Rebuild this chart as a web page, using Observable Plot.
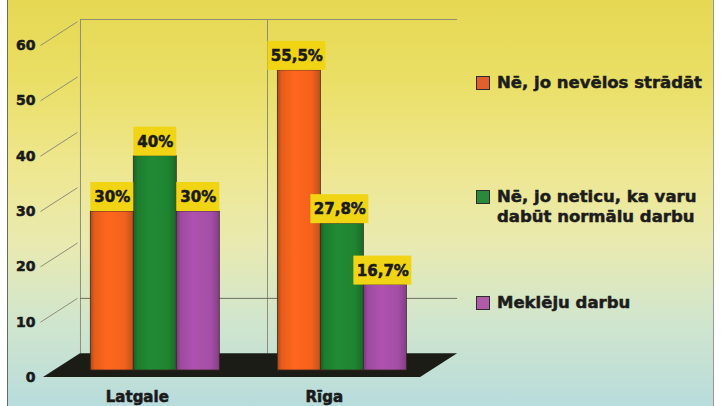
<!DOCTYPE html>
<html>
<head>
<meta charset="utf-8">
<script src="https://cdn.jsdelivr.net/npm/d3@7"></script>
<script src="https://cdn.jsdelivr.net/npm/@observablehq/plot@0.6"></script>
<style>
html, body { margin: 0; padding: 0; background: #ffffff; }
#wrap { position: relative; width: 722px; height: 406px; overflow: hidden; }
#bg { position: absolute; left: 7px; top: 0; width: 705px; height: 406px;
  border-left: 1px solid #6a6a60; border-right: 1px solid #9a9a94;
  background: linear-gradient(to bottom, #e6d852 0%, #eadf66 20%, #eee791 42%, #e9eab0 60%, #d2e6cc 78%, #b8dcdc 100%); }
#chart { position: absolute; left: 0; top: 0; }
#chart svg text { stroke: #1a1a1a; stroke-width: 0.55px; paint-order: stroke; }
#legend { position: absolute; left: 0; top: 0; font-family: "DejaVu Sans", sans-serif; font-weight: bold; font-size: 16.5px; color: #1c1c1c; -webkit-text-stroke: 0.5px #1c1c1c; }
.item { position: absolute; left: 476px; }
.sw { position: absolute; left: 0; width: 12px; height: 12px; border: 1.5px solid #2d2d2d; }
.txt { position: absolute; left: 21px; white-space: nowrap; line-height: 20px; }
</style>
</head>
<body>
<div id="wrap"><div id="bg"></div><div id="chart"></div><div id="legend"></div></div>
<script>
// ---- data ----
const regions = ["Latgale", "Rīga"];
const seriesNames = ["Nē, jo nevēlos strādāt", "Nē, jo neticu, ka varu dabūt normālu darbu", "Meklēju darbu"];
const legendLines = [["Nē, jo nevēlos strādāt"], ["Nē, jo neticu, ka varu", "dabūt normālu darbu"], ["Meklēju darbu"]];
const latgaleValues = [30, 40, 30];
const rigaValues = [55.5, 27.8, 16.7];
const latgaleLabels = ["30%", "40%", "30%"];
const rigaLabels = ["55,5%", "27,8%", "16,7%"];
const seriesColors = ["#f2621d", "#1f8431", "#a54ea7"];
const legendColors = ["#e0602c", "#2a8a3a", "#b05aa8"];
const yTicks = [0, 10, 20, 30, 40, 50, 60];
const backGridLines = [10];

// ---- layout (in x units of one bar width; y depth in value units) ----
const GROUP_START = 1.1, GROUP_STEP = 4.35, BAR_W = 1;
const DEPTH_X = 0.86, DEPTH_Y = 4.3;
const FLOOR_END = 8.77, DIVIDER = 4.35;
const lineColor = "#8f8e76";
const boxColor = "#f1d514";
const textColor = "#1a1a1a";

const valuesByRegion = [latgaleValues, rigaValues];
const labelsByRegion = [latgaleLabels, rigaLabels];
const rows = regions.flatMap((r, g) => valuesByRegion[g].map((v, i) => ({
  region: r, series: seriesNames[i], si: i, value: v, label: labelsByRegion[g][i],
  x1: GROUP_START + g * GROUP_STEP + i * BAR_W,
  x2: GROUP_START + g * GROUP_STEP + (i + 1) * BAR_W
})));
const isLong = d => d.label.length > 3;
const floor = [
  {fx: 0, fy: 0, bx: DEPTH_X, by: DEPTH_Y},
  {fx: FLOOR_END, fy: 0, bx: FLOOR_END + DEPTH_X, by: DEPTH_Y}
];
const labelFont = {fontFamily: "DejaVu Sans", fontWeight: "bold", fontSize: 15, fill: textColor};

const plot = Plot.plot({
  width: 722,
  height: 406,
  marginLeft: 43,
  marginRight: 292,
  marginTop: 45,
  marginBottom: 29,
  style: {background: "transparent", fontFamily: "DejaVu Sans", fontWeight: "bold", fontSize: "14px", color: textColor},
  x: {domain: [0, 9], axis: null},
  y: {domain: [0, 60], ticks: yTicks, tickSize: 0, tickPadding: 8, label: null},
  marks: [
    // back wall
    Plot.ruleX([DEPTH_X, DIVIDER + DEPTH_X], {y1: () => DEPTH_Y, y2: () => 60 + DEPTH_Y + 0.4, stroke: lineColor, strokeWidth: 1}),
    Plot.ruleY([60 + DEPTH_Y + 0.4], {x1: () => DEPTH_X, x2: () => FLOOR_END + DEPTH_X, stroke: lineColor, strokeWidth: 1}),
    Plot.ruleY(backGridLines, {y: t => t + DEPTH_Y, x1: () => DEPTH_X, x2: () => FLOOR_END + DEPTH_X, stroke: "#6c6c62", strokeWidth: 1}),
    Plot.link(yTicks.filter(t => t > 0), {x1: () => 0, y1: t => t, x2: () => DEPTH_X, y2: t => t + DEPTH_Y, stroke: lineColor, strokeWidth: 1, dx: -3}),
    // floor
    Plot.area(floor, {x1: "fx", y1: "fy", x2: "bx", y2: "by", fill: "#1c1c16"}),
    // bars
    ...seriesNames.map((s, i) => Plot.rect(rows.filter(d => d.si === i), {
      x1: "x1", x2: "x2", y1: () => 0, y2: "value",
      fill: `url(#bar-grad-${i})`, stroke: "#3a2a20", strokeWidth: 0.8, insetBottom: 7
    })),
    // value boxes
    Plot.rect(rows.filter(d => !isLong(d)), {x1: "x1", x2: "x2", y1: "value", y2: "value", insetTop: -29, fill: boxColor}),
    Plot.rect(rows.filter(isLong), {x1: "x1", x2: "x2", y1: "value", y2: "value", insetTop: -29, insetLeft: -10, insetRight: -5, fill: boxColor}),
    Plot.text(rows.filter(d => !isLong(d)), {x: d => (d.x1 + d.x2) / 2, y: "value", text: "label", dy: -14, ...labelFont}),
    Plot.text(rows.filter(isLong), {x: d => (d.x1 + d.x2) / 2, y: "value", text: "label", dy: -14, dx: -2.5, ...labelFont}),
    // category labels
    Plot.text(regions, {x: (d, g) => GROUP_START + g * GROUP_STEP + 1.5 * BAR_W, y: () => 0, text: d => d, dy: 20, dx: -18, ...labelFont})
  ]
});

// cylinder shading gradients
const shade = (c, k) => d3.color(c).darker(k).formatHex();
const lite = (c, k) => d3.color(c).brighter(k).formatHex();
const defs = d3.select(plot).insert("defs", ":first-child");
seriesColors.forEach((c, i) => {
  const g = defs.append("linearGradient").attr("id", `bar-grad-${i}`).attr("x1", 0).attr("x2", 1).attr("y1", 0).attr("y2", 0);
  [[0, shade(c, 0.9)], [0.1, shade(c, 0.15)], [0.4, lite(c, 0.15)], [0.8, c], [1, shade(c, 0.6)]]
    .forEach(([o, col]) => g.append("stop").attr("offset", o).attr("stop-color", col));
});
document.getElementById("chart").appendChild(plot);

// legend
const legendTops = [83, 207, 303];
const legend = d3.select("#legend");
legendLines.forEach((lines, i) => {
  const item = legend.append("div").attr("class", "item").style("top", `${legendTops[i]}px`);
  const first = -10 * lines.length;
  item.append("div").attr("class", "sw").style("top", `${first + 3}px`).style("background", legendColors[i]);
  item.append("div").attr("class", "txt").style("top", `${first}px`).html(lines.join("<br>"));
});
</script>
</body>
</html>
